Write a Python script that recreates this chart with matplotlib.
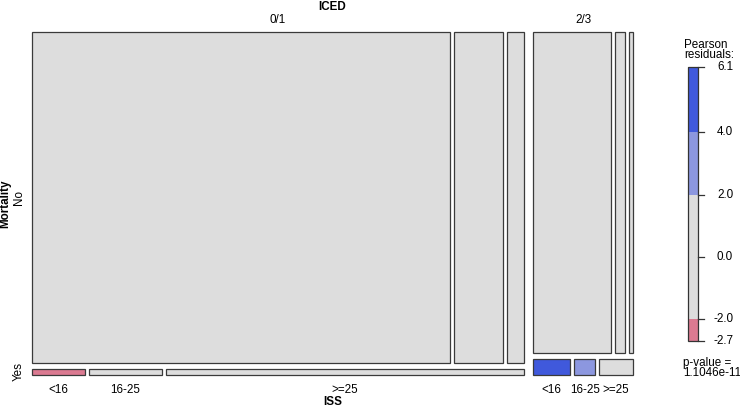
import numpy as np
import matplotlib
matplotlib.use("Agg")
import matplotlib.pyplot as plt
from matplotlib.patches import Rectangle

plt.rcParams['font.family'] = ['Liberation Sans', 'DejaVu Sans']

# mosaic data: ICED -> Mortality -> ISS
iced_levels = ["0/1", "2/3"]
mort_levels = ["No", "Yes"]
iss_levels = ["<16", "16-25", ">=25"]

# counts [iced][mortality][iss]
counts_01_no = [4713, 551, 191]
counts_01_yes = [11, 15, 74]
counts_23_no = [914, 115, 46]
counts_23_yes = [22, 12, 20]

# pearson residuals in the same order
resid_01_no = [0.3, -0.5, -1.0]
resid_01_yes = [-2.7, -1.2, 1.5]
resid_23_no = [-0.4, 0.2, 0.1]
resid_23_yes = [6.1, 3.1, 0.6]

p_value = "1.1046e-11"
legend_ticks = [-2.7, -2.0, 0.0, 2.0, 4.0, 6.1]

counts = np.array([[counts_01_no, counts_01_yes], [counts_23_no, counts_23_yes]], dtype=float)
resid = np.array([[resid_01_no, resid_01_yes], [resid_23_no, resid_23_yes]])

def shade(r):
    if r >= 4:
        return "#4059DC"
    if r >= 2:
        return "#8C97DF"
    if r <= -4:
        return "#C23A5C"
    if r <= -2:
        return "#DB7A91"
    return "#DDDDDD"

W, H = 740, 408
fig = plt.figure(figsize=(W / 100, H / 100), dpi=100)
ax = fig.add_axes([0, 0, 1, 1])
ax.set_xlim(0, W)
ax.set_ylim(H, 0)
ax.axis("off")

# plot region in pixels
x0, x1 = 32, 633
y0, y1 = 32, 375
gaps = [9, 6, 4]
fs = 8.4

n_iced = counts.sum(axis=(1, 2))
avail_w = (x1 - x0) - gaps[0] * (len(iced_levels) - 1)
xc = x0
for i, lev in enumerate(iced_levels):
    wi = avail_w * n_iced[i] / n_iced.sum()
    ax.text(xc + wi / 2, 20, lev, ha="center", va="center", fontsize=fs)
    n_mort = counts[i].sum(axis=1)
    avail_h = (y1 - y0) - gaps[1] * (len(mort_levels) - 1)
    yc = y0
    for j, mlev in enumerate(mort_levels):
        hj = avail_h * n_mort[j] / n_mort.sum()
        if i == 0:
            ax.text(19, yc + hj / 2, mlev, ha="center", va="center",
                    rotation=90, fontsize=fs)
        avail_c = wi - gaps[2] * (len(iss_levels) - 1)
        xk = xc
        for k, slev in enumerate(iss_levels):
            wk = avail_c * counts[i, j, k] / n_mort[j]
            ax.add_patch(Rectangle((xk, yc), wk, hj, facecolor=shade(resid[i, j, k]),
                                   edgecolor="#3a3a3a", lw=0.9))
            if j == len(mort_levels) - 1:
                ax.text(xk + wk / 2, 390, slev, ha="center", va="center", fontsize=fs)
            xk += wk + gaps[2]
        yc += hj + gaps[1]
    xc += wi + gaps[0]

ax.text((x0 + x1) / 2, 7, "ICED", ha="center", va="center", fontsize=fs, fontweight="bold")
ax.text((x0 + x1) / 2, 402, "ISS", ha="center", va="center", fontsize=fs, fontweight="bold")
ax.text(5, (y0 + y1) / 2, "Mortality", ha="center", va="center", rotation=90,
        fontsize=fs, fontweight="bold")

# legend
lx0, lx1 = 688, 698
rmin, rmax = legend_ticks[0], legend_ticks[-1]
ly_top, ly_bot = 67, 341

def ly(v):
    return ly_bot - (v - rmin) / (rmax - rmin) * (ly_bot - ly_top)

bounds = [rmin, -2.0, 2.0, 4.0, rmax]
for a, b in zip(bounds[:-1], bounds[1:]):
    mid = (a + b) / 2
    ax.add_patch(Rectangle((lx0, ly(b)), lx1 - lx0, ly(a) - ly(b),
                           facecolor=shade(mid), edgecolor="none"))
ax.add_patch(Rectangle((lx0, ly_top), lx1 - lx0, ly_bot - ly_top,
                       facecolor="none", edgecolor="#333333", lw=0.9))
for t in legend_ticks:
    ax.plot([lx1, 704], [ly(t), ly(t)], color="#333333", lw=0.9)
    ax.text(733, ly(t), "%.1f" % t, ha="right", va="center", fontsize=fs)

ax.text(684, 50, "Pearson\nresiduals:", ha="left", va="center", fontsize=fs, linespacing=0.8)
ax.text(683, 368, "p-value =\n" + p_value, ha="left", va="center", fontsize=fs, linespacing=0.8)

fig.savefig("out.png", dpi=100)
